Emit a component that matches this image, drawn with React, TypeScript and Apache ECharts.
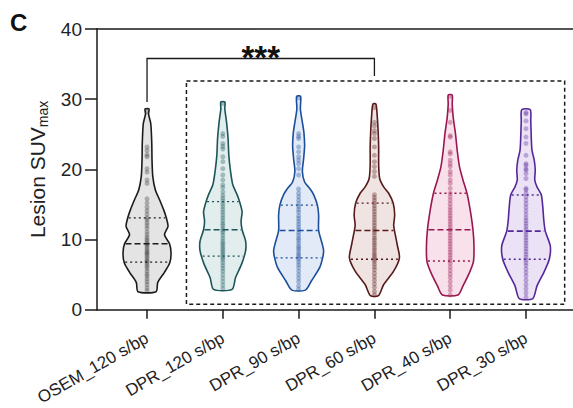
import React, { useEffect, useRef } from "react";
import * as echarts from "echarts";

const categories = ["OSEM_120 s/bp", "DPR_120 s/bp", "DPR_90 s/bp", "DPR_60 s/bp", "DPR_40 s/bp", "DPR_30 s/bp"];
const categoryIndex = [0, 1, 2, 3, 4, 5];

// individual lesion values per reconstruction
const osem120 = [28.2, 23.2, 22.7, 22.1, 21.8, 20.1, 19.6, 18.5, 18.0, 15.8, 15.2, 14.6, 14.1, 13.6, 13.1, 12.8, 12.4, 12.0, 11.6, 11.1, 10.7, 10.3, 10.0, 9.7, 9.4, 9.2, 8.9, 8.6, 8.3, 8.1, 7.9, 7.6, 7.3, 7.0, 6.8, 6.5, 6.2, 5.9, 5.5, 5.1, 4.8, 4.4, 4.0, 3.6, 3.1, 2.7];
const dpr120 = [29.4, 25.1, 24.7, 23.7, 23.3, 22.9, 21.8, 21.1, 20.1, 19.2, 18.5, 17.8, 17.4, 16.8, 16.3, 15.9, 15.5, 15.1, 14.7, 14.3, 13.9, 13.5, 13.1, 12.7, 12.3, 12.0, 11.6, 11.3, 11.0, 10.6, 10.2, 9.8, 9.5, 9.2, 8.9, 8.6, 8.3, 8.0, 7.7, 7.4, 7.1, 6.7, 6.3, 5.9, 5.5, 5.0, 4.5, 4.0, 3.5, 3.0];
const dpr90 = [30.2, 25.1, 24.7, 24.4, 23.2, 22.5, 21.8, 21.3, 20.8, 20.1, 19.2, 17.2, 16.6, 16.1, 15.6, 15.1, 14.7, 14.3, 13.9, 13.4, 13.0, 12.6, 12.2, 11.8, 11.4, 11.0, 10.6, 10.2, 9.9, 9.5, 9.1, 8.8, 8.5, 8.1, 7.8, 7.5, 7.2, 6.8, 6.4, 6.0, 5.5, 5.0, 4.5, 4.0, 3.4, 2.9];
const dpr60 = [28.8, 26.7, 26.2, 25.5, 25.1, 24.4, 23.2, 22.0, 21.1, 20.4, 19.7, 19.0, 16.4, 16.0, 15.6, 15.2, 14.8, 14.4, 14.0, 13.6, 13.2, 12.8, 12.4, 12.0, 11.6, 11.3, 11.0, 10.6, 10.2, 9.9, 9.5, 9.2, 8.8, 8.5, 8.1, 7.8, 7.5, 7.2, 6.9, 6.5, 6.1, 5.7, 5.2, 4.7, 4.2, 3.7, 3.2, 2.6, 2.1];
const dpr40 = [30.4, 28.4, 26.7, 24.8, 24.6, 22.5, 22.2, 21.3, 20.8, 20.4, 19.7, 19.2, 18.5, 18.0, 17.3, 16.6, 16.1, 15.6, 15.1, 14.6, 14.2, 13.8, 13.4, 13.0, 12.6, 12.2, 11.8, 11.4, 11.0, 10.6, 10.2, 9.8, 9.4, 9.0, 8.6, 8.2, 7.8, 7.4, 7.0, 6.6, 6.1, 5.6, 5.1, 4.6, 4.0, 3.4, 2.8, 2.1];
const dpr30 = [28.1, 27.9, 26.9, 25.8, 24.6, 23.7, 22.0, 20.8, 20.6, 20.1, 19.9, 19.4, 18.7, 17.3, 17.1, 16.6, 16.1, 15.6, 15.1, 14.6, 14.1, 13.6, 13.1, 12.7, 12.3, 11.9, 11.5, 11.1, 10.7, 10.3, 9.9, 9.5, 9.1, 8.7, 8.3, 7.9, 7.5, 7.1, 6.7, 6.3, 5.8, 5.3, 4.8, 4.2, 3.6, 3.0, 2.4, 1.8];
const pointSets = [osem120, dpr120, dpr90, dpr60, dpr40, dpr30];

// violin outlines: [value, relative density]
const osem120Density = [[2.57, 0.36], [3.9, 0.43], [5.3, 0.69], [6.7, 0.91], [8.1, 0.96], [9.4, 0.9], [10.7, 0.7], [11.9, 0.84], [13.1, 0.77], [14.2, 0.67], [15.6, 0.51], [17.1, 0.33], [19.0, 0.23], [21.3, 0.2], [23.7, 0.19], [26.5, 0.15], [27.9, 0.06], [28.6, 0.08]];
const dpr120Density = [[2.9, 0.37], [4.6, 0.51], [6.5, 0.75], [8.4, 0.91], [9.8, 0.91], [11.4, 0.77], [12.6, 0.73], [14.0, 0.77], [15.4, 0.67], [16.4, 0.57], [17.8, 0.4], [19.7, 0.31], [22.0, 0.24], [24.4, 0.21], [26.7, 0.15], [28.6, 0.08], [29.6, 0.08]];
const dpr90Density = [[2.8, 0.27], [4.1, 0.51], [6.0, 0.84], [7.4, 0.96], [8.4, 1.0], [9.3, 0.95], [11.3, 0.8], [13.5, 0.8], [14.9, 0.75], [16.4, 0.6], [17.3, 0.44], [18.2, 0.24], [19.7, 0.15], [21.5, 0.2], [23.4, 0.24], [25.3, 0.21], [26.7, 0.15], [28.6, 0.07], [30.4, 0.08]];
const dpr60Density = [[2.0, 0.16], [3.6, 0.37], [5.5, 0.77], [7.4, 1.0], [9.3, 0.91], [11.3, 0.8], [12.1, 0.77], [13.5, 0.81], [15.2, 0.75], [16.6, 0.57], [17.5, 0.37], [18.7, 0.21], [20.6, 0.17], [23.0, 0.17], [25.3, 0.15], [27.7, 0.11], [29.3, 0.06]];
const dpr40Density = [[2.1, 0.31], [3.4, 0.51], [5.3, 0.77], [6.9, 0.93], [9.1, 0.95], [11.4, 0.91], [14.2, 0.8], [16.6, 0.67], [18.5, 0.51], [20.4, 0.37], [22.7, 0.28], [25.1, 0.21], [27.4, 0.12], [29.3, 0.08], [30.6, 0.08]];
const dpr30Density = [[1.6, 0.27], [3.4, 0.44], [5.3, 0.71], [7.2, 0.93], [9.1, 0.97], [11.2, 0.77], [12.8, 0.71], [14.7, 0.67], [16.4, 0.61], [17.5, 0.44], [18.5, 0.35], [19.9, 0.37], [21.3, 0.33], [22.7, 0.24], [24.6, 0.21], [26.9, 0.19], [28.5, 0.17]];
const densities = [osem120Density, dpr120Density, dpr90Density, dpr60Density, dpr40Density, dpr30Density];

// quartiles
const q1Values = [6.8, 7.65, 7.4, 7.2, 6.95, 7.2];
const medianValues = [9.4, 11.4, 11.3, 11.3, 11.4, 11.2];
const q3Values = [13.1, 15.4, 14.9, 15.2, 16.6, 16.35];

// annotations (data coordinates)
const bracketFrom = 0;
const bracketTo = 3;
const bracketTop = 35.8;
const bracketLegs = [29.6, 33.3];
const boxRange = { x0: 0.52, x1: 5.51, y0: 0.78, y1: 32.6 };

const strokeColors = ["#1c1c1c", "#1d5558", "#1b4e9b", "#571b1b", "#9a1650", "#55289a"];
const fillColors = ["#e4e4e4", "#e2eded", "#e1eaf6", "#efe4e2", "#f8e1ea", "#ebe3f5"];
const pointColors = ["rgba(40,40,40,0.38)", "rgba(25,85,90,0.42)", "rgba(27,78,155,0.42)", "rgba(87,27,27,0.42)", "rgba(154,22,80,0.42)", "rgba(85,40,154,0.42)"];

const FONT = "'Liberation Sans', Arial, Helvetica, sans-serif";
const WIDTH_FRACTION = 0.33;

function halfAt(prof: number[][], v: number) {
  if (v <= prof[0][0]) return prof[0][1];
  for (let k = 1; k < prof.length; k++) {
    if (v <= prof[k][0]) {
      const [a, da] = prof[k - 1];
      const [b, db] = prof[k];
      return da + ((v - a) / (b - a)) * (db - da);
    }
  }
  return prof[prof.length - 1][1];
}

export default function App() {
  const ref = useRef<HTMLDivElement>(null);
  useEffect(() => {
    document.body.style.margin = "0";
    const chart = echarts.init(ref.current!, null, { renderer: "svg" });

    const violinSeries: any = {
      type: "custom",
      z: 1,
      data: categoryIndex.map((i) => [i]),
      renderItem: (params: any, api: any) => {
        const i = api.value(0);
        const prof = densities[i];
        const W = api.size([1, 0])[0] * WIDTH_FRACTION;
        const cx = api.coord([i, 0])[0];
        const right = prof.map(([v, d]) => [cx + d * W, api.coord([i, v])[1]]);
        const left = prof.slice().reverse().map(([v, d]) => [cx - d * W, api.coord([i, v])[1]]);
        return {
          type: "polygon",
          shape: { points: right.concat(left), smooth: 0.25 },
          style: { fill: fillColors[i], stroke: strokeColors[i], lineWidth: 1.6 },
        };
      },
    };

    const scatterSeries = pointSets.map((vals, i) => ({
      type: "scatter",
      z: 2,
      symbolSize: 5,
      itemStyle: { color: pointColors[i] },
      data: vals.map((v) => [i, v]),
    }));

    const quartileSeries: any = {
      type: "custom",
      z: 3,
      data: categoryIndex.map((i) => [i]),
      renderItem: (params: any, api: any) => {
        const i = api.value(0);
        const prof = densities[i];
        const W = api.size([1, 0])[0] * WIDTH_FRACTION;
        const cx = api.coord([i, 0])[0];
        const mk = (v: number, dash: number[], lw: number) => {
          const h = halfAt(prof, v) * W - 1;
          const y = api.coord([i, v])[1];
          return {
            type: "line",
            shape: { x1: cx - h, y1: y, x2: cx + h, y2: y },
            style: { stroke: strokeColors[i], lineWidth: lw, lineDash: dash },
          };
        };
        return {
          type: "group",
          children: [
            mk(q1Values[i], [2, 3], 1.3),
            mk(medianValues[i], [6, 3], 1.6),
            mk(q3Values[i], [2, 3], 1.3),
          ],
        };
      },
    };

    const annotationSeries: any = {
      type: "custom",
      z: 4,
      data: [[0]],
      renderItem: (params: any, api: any) => {
        const p0 = api.coord([boxRange.x0, boxRange.y1]);
        const p1 = api.coord([boxRange.x1, boxRange.y0]);
        const a = api.coord([bracketFrom, bracketLegs[0]]);
        const b = api.coord([bracketFrom, bracketTop]);
        const c = api.coord([bracketTo, bracketTop]);
        const d = api.coord([bracketTo, bracketLegs[1]]);
        return {
          type: "group",
          children: [
            {
              type: "rect",
              shape: { x: p0[0], y: p0[1], width: p1[0] - p0[0], height: p1[1] - p0[1] },
              style: { fill: "none", stroke: "#1a1a1a", lineWidth: 1.5, lineDash: [4, 3] },
            },
            {
              type: "polyline",
              shape: { points: [a, b, c, d] },
              style: { fill: "none", stroke: "#1a1a1a", lineWidth: 1.3 },
            },
            {
              type: "text",
              x: (b[0] + c[0]) / 2,
              y: b[1] - 1,
              style: {
                text: "***",
                font: `bold 33px ${FONT}`,
                fill: "#111",
                align: "center",
                verticalAlign: "middle",
              },
            },
          ],
        };
      },
    };

    const axisLineStyle = { color: "#1a1a1a", width: 1.5 };

    chart.setOption({
      animation: false,
      backgroundColor: "#ffffff",
      textStyle: { fontFamily: FONT },
      grid: { left: 97, right: 0, top: 29, bottom: 96, containLabel: false },
      graphic: [
        {
          type: "text",
          left: 10,
          top: 10,
          style: { text: "C", font: `bold 24px ${FONT}`, fill: "#111" },
        },
      ],
      xAxis: [
        {
          type: "value",
          min: -0.66,
          max: 5.62,
          position: "bottom",
          axisLine: { show: true, onZero: false, lineStyle: axisLineStyle },
          axisTick: { show: true, customValues: categoryIndex, length: 9, lineStyle: axisLineStyle },
          axisLabel: {
            customValues: categoryIndex,
            formatter: (v: number) => categories[Math.round(v)],
            rotate: 30,
            fontSize: 17,
            color: "#222",
            margin: 27,
            fontFamily: FONT,
          },
          splitLine: { show: false },
        },
        {
          type: "value",
          min: -0.66,
          max: 5.62,
          position: "top",
          axisLine: { show: true, onZero: false, lineStyle: axisLineStyle },
          axisTick: { show: false },
          axisLabel: { show: false },
          splitLine: { show: false },
        },
      ],
      yAxis: {
        type: "value",
        min: 0,
        max: 40,
        interval: 10,
        name: "Lesion SUV{sub|max}",
        nameLocation: "middle",
        nameGap: 45,
        nameRotate: 90,
        nameTextStyle: {
          fontSize: 21,
          color: "#222",
          fontFamily: FONT,
          rich: {
            sub: { fontSize: 14, color: "#222", fontFamily: FONT, padding: [10, 0, 0, 0] },
          },
        },
        axisLine: { show: true, onZero: false, lineStyle: axisLineStyle },
        axisTick: { show: true, length: 12, lineStyle: axisLineStyle },
        axisLabel: { fontSize: 19, color: "#222", margin: 15, fontFamily: FONT },
        splitLine: { show: false },
      },
      series: [violinSeries, ...scatterSeries, quartileSeries, annotationSeries],
    });
    return () => chart.dispose();
  }, []);
  return <div ref={ref} style={{ width: 573, height: 408 }} />;
}
